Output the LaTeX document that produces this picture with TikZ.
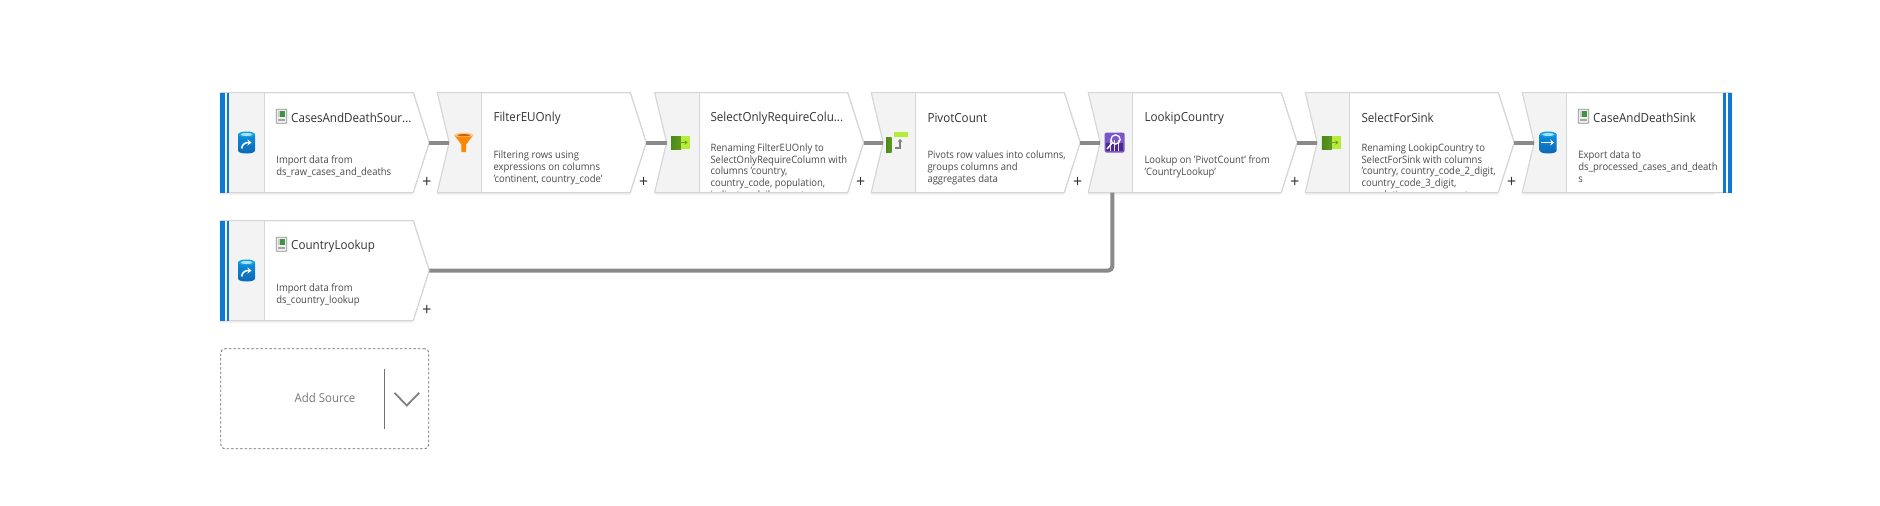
\documentclass[tikz,border=0pt]{standalone}
\usepackage{fontspec}
\setmainfont[FakeStretch=0.93]{Open Sans}
\usetikzlibrary{calc,arrows.meta}
\definecolor{edgegray}{HTML}{D6D6D6}
\definecolor{panelgray}{HTML}{F3F3F3}
\definecolor{conngray}{HTML}{8A8A8A}
\definecolor{azblue}{HTML}{0F78D4}
\definecolor{titlecol}{HTML}{333333}
\definecolor{desccol}{HTML}{4A4A4A}
\definecolor{dkgreen}{HTML}{4B8A16}
\definecolor{dkgreenb}{HTML}{5E9A22}
\definecolor{ltgreen}{HTML}{B4EC36}
\definecolor{arrgreen}{HTML}{6E9A2A}
\definecolor{lookpurple}{HTML}{7A56C8}
\definecolor{lookdark}{HTML}{4B2A8E}
\tikzset{
  x=1pt,y=-1pt,
  boxedge/.style={draw=edgegray,line width=1pt,fill=white,line join=round},
  boxshadow/.style={draw=black!5,line width=2pt,fill=black!5,line join=round},
  panelfill/.style={fill=panelgray},
  paneledge/.style={draw=edgegray,line width=1pt},
  titletext/.style={font=\fontsize{12.5}{15}\selectfont,text=titlecol,inner sep=0pt,anchor=west},
  desctext/.style={font=\fontsize{10.2}{11.75}\selectfont,text=desccol,inner sep=0pt,anchor=north west,align=left},
  plusmark/.style={font=\fontsize{17}{17}\selectfont,text=titlecol,inner sep=0pt,anchor=center},
  conn/.style={draw=conngray,line width=4pt},
  bluebar/.style={fill=azblue},
}
% geometry of one box: #1 name, #2 left x, #3 top y, #4 kind (0 step,1 source,2 sink)
\newcommand{\boxshape}[4]{%
  \pgfmathsetmacro{\xl}{#2}\pgfmathsetmacro{\yt}{#3}
  \pgfmathsetmacro{\yb}{#3+100}\pgfmathsetmacro{\ym}{#3+50}
  \pgfmathsetmacro{\xn}{#2+12}\pgfmathsetmacro{\xp}{#2+44.5}
  \pgfmathsetmacro{\xs}{#2+193}\pgfmathsetmacro{\xe}{#2+209}
  \ifcase#4\relax
    \def\outline{(\xl,\yt) -- (\xs,\yt) -- (\xe,\ym) -- (\xs,\yb) -- (\xl,\yb) -- (\xn,\ym) -- cycle}
    \def\panel{(\xl,\yt) -- (\xp,\yt) -- (\xp,\yb) -- (\xl,\yb) -- (\xn,\ym) -- cycle}
  \or
    \def\outline{(\xl,\yt) -- (\xs,\yt) -- (\xe,\ym) -- (\xs,\yb) -- (\xl,\yb) -- cycle}
    \def\panel{(\xl,\yt) -- (\xp,\yt) -- (\xp,\yb) -- (\xl,\yb) -- cycle}
  \or
    \pgfmathsetmacro{\xe}{#2+209.4}
    \def\outline{(\xl,\yt) -- (\xe,\yt) -- (\xe,\yb) -- (\xl,\yb) -- (\xn,\ym) -- cycle}
    \def\panel{(\xl,\yt) -- (\xp,\yt) -- (\xp,\yb) -- (\xl,\yb) -- (\xn,\ym) -- cycle}
  \fi
  \path[boxshadow] (\xl,\yb+1.5) -- (\xs,\yb+1.5);
  \path[boxedge] \outline;
  \path[panelfill] \panel;
  \draw[paneledge] (\xp,\yt) -- (\xp,\yb);
  \path[boxedge,fill=none] \outline;
  \coordinate (#1in) at (\xn,\ym);
  \coordinate (#1out) at (\xe,\ym);
  \coordinate (#1ico) at ($(\xn,\ym)!0.5!(\xp,\ym)$);
  \coordinate (#1txt) at (\xp,\yt);
}
\newcommand{\cylinder}[2]{% centre, arrow kind
  \begin{scope}[shift={(#1)}]
    \path[top color=azblue!85!cyan,bottom color=azblue!85!black]
      (-8.5,-8) -- (-8.5,8) .. controls (-8.5,12) and (8.5,12) .. (8.5,8) -- (8.5,-8) -- cycle;
    \path[fill=cyan!75!azblue] (0,-8) ellipse[x radius=8.5,y radius=3];
    \path[fill=cyan!35] (0,-8) ellipse[x radius=6,y radius=1.5];
    #2
  \end{scope}}
\newcommand{\fileicon}[1]{% west point
  \begin{scope}[shift={(#1)}]
    \path[fill=black!6,draw=gray!90,line width=.8pt,rounded corners=.6pt] (0,-7) rectangle (10.5,7);
    \path[fill=green!45!black!75!white] (4.2,-5) rectangle (8.5,0.5);
    \path[fill=black!20] (2,-5) rectangle (4.2,0.5);
    \path[fill=gray!70] (2.2,3) rectangle (8.5,5);
  \end{scope}}
\begin{document}
\begin{tikzpicture}
\useasboundingbox[fill=white] (0,0) rectangle (1880,506);

% --- box shapes ---
\boxshape{src}{220.3}{92.5}{1}
\boxshape{flt}{437.3}{92.5}{0}
\boxshape{sel}{654.7}{92.5}{0}
\boxshape{piv}{871.3}{92.5}{0}
\boxshape{lkp}{1088.3}{92.5}{0}
\boxshape{sfs}{1305.3}{92.5}{0}
\boxshape{snk}{1522.3}{92.5}{2}
\boxshape{ctr}{220.3}{220.5}{1}

% --- blue bars ---
\fill[bluebar] (220.3,92.5) rectangle (225.3,192.5);
\fill[bluebar] (226.8,92.5) rectangle (228.7,192.5);
\fill[bluebar] (220.3,220.5) rectangle (225.3,320.5);
\fill[bluebar] (226.8,220.5) rectangle (228.7,320.5);
\fill[bluebar] (1723.4,92.5) rectangle (1725.6,192.5);
\fill[bluebar] (1727.7,92.5) rectangle (1731.7,192.5);

% --- connectors ---
\draw[conn] (srcout) -- (fltin);
\draw[conn] (fltout) -- (selin);
\draw[conn] (selout) -- (pivin);
\draw[conn] (pivout) -- (lkpin);
\draw[conn] (lkpout) -- (sfsin);
\draw[conn] (sfsout) -- (snkin);
\coordinate (lkpfoot) at (1112.3,192.5);
\draw[conn,rounded corners=4pt] (ctrout) -- (lkpfoot |- ctrout) -- (lkpfoot);

% --- icons ---
\cylinder{246.5,142.5}{\draw[white,line width=1.6pt,-{Stealth[length=4pt,width=6pt]}] (-5,6) .. controls (-4,1) and (-1,0) .. (5,0);}
\cylinder{246.5,270.5}{\draw[white,line width=1.6pt,-{Stealth[length=4pt,width=6pt]}] (-5,6) .. controls (-4,1) and (-1,0) .. (5,0);}
\cylinder{1548.2,142.5}{\draw[white,line width=1.5pt,-{Stealth[length=4pt,width=6pt]}] (-7,0) -- (6,0);}
% filter
\begin{scope}[shift={(fltico)},xshift=-1.8pt]
  \path[fill=orange!95!yellow] (-9.5,-7.5) -- (9.5,-7.5) -- (2.4,2) -- (2.4,9.5) -- (-2.4,9.5) -- (-2.4,2) -- cycle;
  \path[fill=orange!45!white] (0,-7.5) ellipse[x radius=9.5,y radius=2.2];
  \path[fill=orange!80!black] (0,-7.2) ellipse[x radius=6.5,y radius=1.2];
\end{scope}
% select icons
\begin{scope}[shift={(selico)},xshift=-2.4pt]
  \path[left color=dkgreen,right color=dkgreenb] (-9.5,-6.5) rectangle (0.5,6.5);
  \path[fill=ltgreen] (0.5,-6.5) rectangle (9.5,6.5);
  \draw[draw=arrgreen,line width=1.4pt,-{Stealth[length=3pt,width=4.5pt]}] (-1,0) -- (7,0);
\end{scope}
\begin{scope}[shift={(sfsico)},xshift=-2.1pt]
  \path[left color=dkgreen,right color=dkgreenb] (-9.5,-6.5) rectangle (0.5,6.5);
  \path[fill=ltgreen] (0.5,-6.5) rectangle (9.5,6.5);
  \draw[draw=arrgreen,line width=1.4pt,-{Stealth[length=3pt,width=4.5pt]}] (-1,0) -- (7,0);
\end{scope}
% pivot
\begin{scope}[shift={(pivico)},xshift=-3.5pt]
  \path[left color=dkgreen,right color=dkgreenb] (-10,-5) rectangle (-4.5,10);
  \path[fill=ltgreen] (-2.5,-10.5) rectangle (12,-5.5);
  \draw[gray,line width=1.5pt,-{Stealth[length=3pt,width=5pt]}] (-1,5.5) -- (4,5.5) -- (4,-3.5);
\end{scope}
% lookup
\begin{scope}[shift={(lkpico)},xshift=-2pt]
  \path[fill=lookpurple,rounded corners=1.5pt] (-10,-10) rectangle (10,10);
  \path[fill=lookdark] (-8.5,0) rectangle (8.5,8.5);
  \foreach \bx in {-4,0,4} \draw[white!85!violet,line width=.9pt] (\bx,-3) -- (\bx,8.5);
  \draw[white,line width=1.3pt] (1,-3) circle[radius=4.6];
  \draw[white,line width=1.5pt] (-2.5,0.5) -- (-7.5,6.5);
\end{scope}

% --- file icons ---
\fileicon{276.2,116.3}
\fileicon{276.2,244.3}
\fileicon{1578.2,116.3}

% --- titles ---
\node[titletext] (srctitle) at (291,117.8) {CasesAndDeathSour...};
\node[titletext] (flttitle) at (493.3,117.8) {FilterEUOnly};
\node[titletext] (seltitle) at (710.3,117.8) {SelectOnlyRequireColu...};
\node[titletext] (pivtitle) at (927.3,117.8) {PivotCount};
\node[titletext] (lkptitle) at (1144.3,117.8) {LookipCountry};
\node[titletext] (sfstitle) at (1361.3,117.8) {SelectForSink};
\node[titletext] (snktitle) at (1593,117.8) {CaseAndDeathSink};
\node[titletext] (ctrtitle) at (291,245.8) {CountryLookup};

% --- descriptions (clipped at the box bottom) ---
\begin{scope}
  \clip (260,92) rectangle (1730,191.6);
  \node[desctext] (srcdesc) at (276.2,155.4) {Import data from\\ds\_raw\_cases\_and\_deaths};
  \node[desctext] (fltdesc) at (493.3,150.8) {Filtering rows using\\expressions on columns\\'continent, country\_code'};
  \node[desctext] (seldesc) at (710.3,143.4) {Renaming FilterEUOnly to\\SelectOnlyRequireColumn with\\columns 'country,\\country\_code, population,\\indicator, daily\_count,};
  \node[desctext] (pivdesc) at (927.3,150.8) {Pivots row values into columns,\\groups columns and\\aggregates data};
  \node[desctext] (lkpdesc) at (1144.3,155.4) {Lookup on 'PivotCount' from\\'CountryLookup'};
  \node[desctext] (sfsdesc) at (1361.3,143.4) {Renaming LookipCountry to\\SelectForSink with columns\\'country, country\_code\_2\_digit,\\country\_code\_3\_digit,\\population, cases\_count,};
  \node[desctext] (snkdesc) at (1578.2,150.8) {Export data to\\ds\_processed\_cases\_and\_death\\s};
\end{scope}
\node[desctext] (ctrdesc) at (276.2,283.4) {Import data from\\ds\_country\_lookup};

% --- plus marks ---
\node[plusmark] (srcplus) at (427,182.5) {+};
\node[plusmark] (fltplus) at (643.7,182.5) {+};
\node[plusmark] (selplus) at (860.7,182.5) {+};
\node[plusmark] (pivplus) at (1077.7,182.5) {+};
\node[plusmark] (lkpplus) at (1295,182.5) {+};
\node[plusmark] (sfsplus) at (1511.7,182.5) {+};
\node[plusmark] (ctrplus) at (427,310.5) {+};

% --- add source ---
\node[draw=gray!85!black,dash pattern=on 2.5pt off 2pt,line width=.8pt,rounded corners=4pt,minimum width=208pt,minimum height=100pt,inner sep=0pt,anchor=north west] (addbox) at (220.4,348.4) {};
\node[font=\fontsize{12.3}{14}\selectfont,text=gray!95!black,inner sep=0pt] (addlabel) at (325,397.8) {Add Source};
\coordinate (divtop) at (384.4,368.7);
\coordinate (divbot) at (384.4,428.7);
\draw[gray!90!black,line width=1pt] (divtop) -- (divbot);
\coordinate (chevl) at (394.5,392.8);
\coordinate (chevm) at (406.8,405.5);
\coordinate (chevr) at (419.2,392.8);
\draw[gray,line width=1.8pt] (chevl) -- (chevm) -- (chevr);
\end{tikzpicture}
\end{document}
